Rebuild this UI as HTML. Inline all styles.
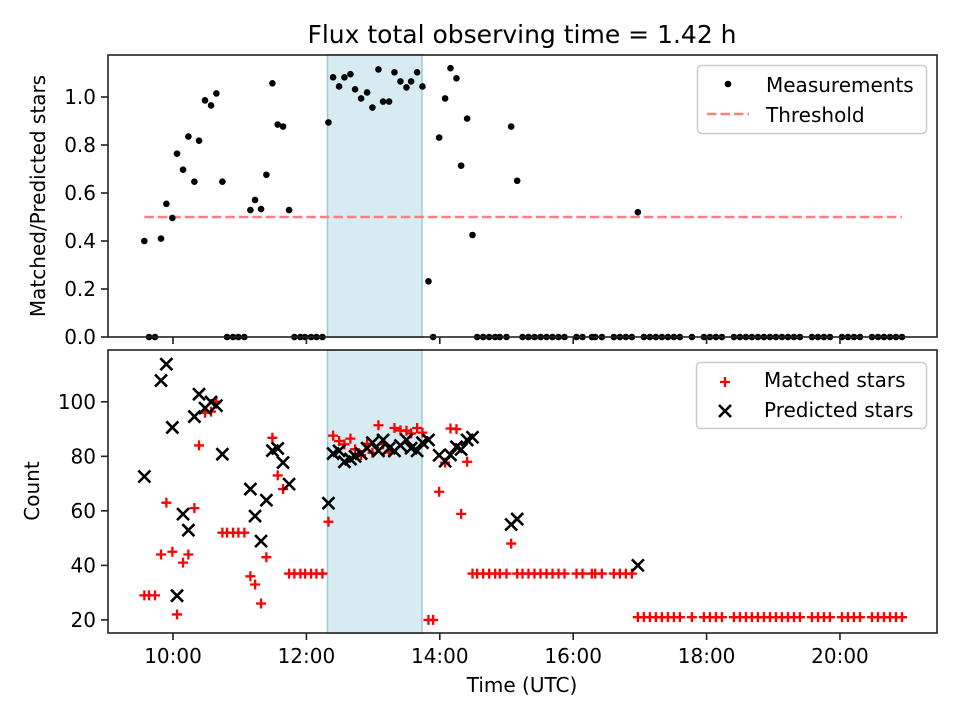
<!DOCTYPE html>
<html><head><meta charset="utf-8"><style>
html,body{margin:0;padding:0;background:#fff;}
svg{display:block;font-family:"DejaVu Sans","Liberation Sans",sans-serif;}
</style></head><body>
<svg id="chart" width="960" height="720" viewBox="0 0 960 720" xmlns="http://www.w3.org/2000/svg"></svg>
<script>
const times = [9.57,9.64,9.73,9.82,9.90,9.99,10.06,10.15,10.23,10.32,10.39,10.48,10.57,10.65,10.74,10.81,10.90,10.98,11.07,
11.16,11.23,11.32,11.40,11.49,11.57,11.65,11.74,11.82,11.91,11.98,12.07,12.15,12.24,12.33,
12.40,12.49,12.57,12.66,12.73,12.82,12.91,12.99,13.08,13.15,13.24,13.32,13.41,13.50,13.57,13.66,13.74,13.83,13.90,
13.99,14.08,14.16,14.25,14.32,14.41,14.49,
14.56,14.65,14.74,14.83,14.90,15.00,15.07,15.16,15.24,15.33,15.42,15.51,15.60,15.69,15.78,15.87,16.05,16.14,16.28,16.33,16.43,16.61,16.70,16.79,16.88,
16.97,17.06,17.15,17.24,17.33,17.42,17.51,17.60,17.78,17.96,18.05,18.14,18.23,18.41,18.50,18.59,18.68,18.77,18.86,18.95,19.04,19.13,19.22,19.31,19.40,19.58,19.67,19.76,19.85,20.03,20.12,20.21,20.30,20.48,20.57,20.66,20.75,20.84,20.93];
const ratio = [0.40,0,0,0.41,0.555,0.496,0.764,0.697,0.835,0.647,0.818,0.986,0.965,1.015,0.647,0,0,0,0,
0.529,0.571,0.533,0.676,1.057,0.885,0.877,0.529,0,0,0,0,0,0,0.894,
1.082,1.044,1.082,1.095,1.032,0.994,1.019,0.956,1.115,0.981,0.981,1.103,1.065,1.040,1.065,1.103,1.044,0.232,0,
0.831,0.994,1.12,1.078,0.714,0.91,0.425,
0,0,0,0,0,0,0.877,0.651,0,0,0,0,0,0,0,0,0,0,0,0,0,0,0,0,0,
0.52,0,0,0,0,0,0,0,0,0,0,0,0,0,0,0,0,0,0,0,0,0,0,0,0,0,0,0,0,0,0,0,0,0,0,0,0,0,0];
const matched = [29,29,29,44,63,45,22,41,44,61,84,96,96.4,100,52,52,52,52,52,
36,33,26,43,86.8,73,68,37,37,37,37,37,37,37,56,
87.6,85.6,84.4,86.5,82.6,80.5,84.6,81.3,91.4,84.4,81.4,90.4,89.5,89.4,88.4,90.4,88.7,20,20,
67,77.7,90.2,90,58.9,78,37,
37,37,37,37,37,37,48,37,37,37,37,37,37,37,37,37,37,37,37,37,37,37,37,37,37,
21,21,21,21,21,21,21,21,21,21,21,21,21,21,21,21,21,21,21,21,21,21,21,21,21,21,21,21,21,21,21,21,21,21,21,21,21,21,21];
const predicted = [72.6,null,null,107.8,113.8,90.6,28.9,58.8,52.9,94.6,102.8,97.7,99.9,98.6,80.8,null,null,null,null,
68,58.1,48.9,63.9,82.1,82.9,77.7,69.8,null,null,null,null,null,null,62.8,
81,82,78,79,80,81,83,85,82,86,83,82,84,86,83,82,85,86,null,
80.4,78.2,80.5,83.5,82.5,86,87,
null,null,null,null,null,null,55,57,null,null,null,null,null,null,null,null,null,null,null,null,null,null,null,null,null,
40];
const xTickLabels = ["10:00","12:00","14:00","16:00","18:00","20:00"];
const xTickHours = [10,12,14,16,18,20];
const topTicks = [0.0,0.2,0.4,0.6,0.8,1.0];
const botTicks = [20,40,60,80,100];
const threshold = 0.5;
const bandStart = 12.316, bandEnd = 13.733;

const svg = document.getElementById('chart');
const NS = 'http://www.w3.org/2000/svg';
function mk(tag, attrs, parent){const e=document.createElementNS(NS,tag);for(const k in attrs)e.setAttribute(k,attrs[k]);(parent||svg).appendChild(e);return e;}
const L=108,R=937,T1=55,B1=337,T2=350,B2=633;
const xMin=9.025,xMax=21.455;
const FS='20';
const x = t => L + (t-xMin)/(xMax-xMin)*(R-L);
const y1 = v => B1 - (v-0)/(1.175-0)*(B1-T1);
const y2 = v => B2 - (v-15.2)/(119-15.2)*(B2-T2);

let t = mk('text',{x:522,y:43,'text-anchor':'middle','font-size':'25',fill:'#000'});


t.textContent='Flux total observing time = 1.42 h';

function axesFrame(T,B,name){
  const g=mk('g',{});
  
  
  const band=mk('rect',{x:x(bandStart),y:T,width:x(bandEnd)-x(bandStart),height:B-T,fill:'#add8e6','fill-opacity':0.5,stroke:'#9ccbd9','stroke-width':1.5},g);
  
  
  return g;
}
function frameBorder(T,B,g){
  const r=mk('rect',{x:L,y:T,width:R-L,height:B-T,fill:'none',stroke:'#222','stroke-width':1.6},g);
  
  
  xTickHours.forEach((h,i)=>{
    const tk=mk('line',{x1:x(h),x2:x(h),y1:B,y2:B+7,stroke:'#222','stroke-width':1.6},g);
    
    
  });
}

const g1=axesFrame(T1,B1,'top-axes');
const th=mk('line',{x1:x(9.57),x2:x(20.93),y1:y1(threshold),y2:y1(threshold),stroke:'#ff7f7f','stroke-width':2.6,'stroke-dasharray':'9.5,4'},g1);


times.forEach((tt,i)=>{
  const c=mk('circle',{cx:x(tt),cy:y1(ratio[i]),r:3.3,fill:'#000'},g1);
  
  
});
frameBorder(T1,B1,g1);
topTicks.forEach(v=>{
  const tk=mk('line',{x1:L-7,x2:L,y1:y1(v),y2:y1(v),stroke:'#222','stroke-width':1.6},g1);
  
  
  const lb=mk('text',{x:L-12,y:y1(v)+7,'text-anchor':'end','font-size':FS,fill:'#000'},g1);
  
  
  lb.textContent=v.toFixed(1);
});
let yl=mk('text',{x:0,y:0,'text-anchor':'middle','font-size':FS,fill:'#000',transform:'translate(45,196) rotate(-90)'});


yl.textContent='Matched/Predicted stars';

const lg1=mk('g',{});


mk('rect',{x:697.5,y:65.5,width:229,height:68,rx:4,fill:'#fff','fill-opacity':0.8,stroke:'#cccccc','stroke-width':1.5},lg1);
mk('circle',{cx:728,cy:84,r:3.3,fill:'#000'},lg1);
mk('line',{x1:707,x2:749,y1:114,y2:114,stroke:'#ff7f7f','stroke-width':2.6,'stroke-dasharray':'9.5,4'},lg1);
let e1=mk('text',{x:766,y:92,'font-size':FS,fill:'#000'},lg1);


e1.textContent='Measurements';
let e2=mk('text',{x:766,y:122,'font-size':FS,fill:'#000'},lg1);


e2.textContent='Threshold';

const g2=axesFrame(T2,B2,'bottom-axes');
function plus(cx,cy,parent){
  return mk('path',{d:`M${cx-5},${cy}H${cx+5}M${cx},${cy-5}V${cy+5}`,stroke:'#ff0000','stroke-width':2.3,fill:'none'},parent);
}
function cross(cx,cy,parent){
  return mk('path',{d:`M${cx-6},${cy-6}L${cx+6},${cy+6}M${cx-6},${cy+6}L${cx+6},${cy-6}`,stroke:'#000','stroke-width':2.6,fill:'none'},parent);
}
times.forEach((tt,i)=>{
  const p=plus(x(tt),y2(matched[i]),g2);
  
  
});
times.forEach((tt,i)=>{
  if(predicted[i]==null) return;
  const c=cross(x(tt),y2(predicted[i]),g2);
  
  
});
frameBorder(T2,B2,g2);
botTicks.forEach(v=>{
  const tk=mk('line',{x1:L-7,x2:L,y1:y2(v),y2:y2(v),stroke:'#222','stroke-width':1.6},g2);
  
  
  const lb=mk('text',{x:L-12,y:y2(v)+7,'text-anchor':'end','font-size':FS,fill:'#000'},g2);
  
  
  lb.textContent=String(v);
});
xTickHours.forEach((h,i)=>{
  const lb=mk('text',{x:x(h),y:663,'text-anchor':'middle','font-size':FS,fill:'#000'},g2);
  
  
  lb.textContent=xTickLabels[i];
});
let yl2=mk('text',{x:0,y:0,'text-anchor':'middle','font-size':FS,fill:'#000',transform:'translate(39,491) rotate(-90)'});


yl2.textContent='Count';
let xl=mk('text',{x:522,y:692,'text-anchor':'middle','font-size':FS,fill:'#000'});


xl.textContent='Time (UTC)';

const lg2=mk('g',{});


mk('rect',{x:696.5,y:362.5,width:230,height:66,rx:4,fill:'#fff','fill-opacity':0.8,stroke:'#cccccc','stroke-width':1.5},lg2);
plus(725,382,lg2);
cross(725,411,lg2);
let e3=mk('text',{x:764,y:387,'font-size':FS,fill:'#000'},lg2);


e3.textContent='Matched stars';
let e4=mk('text',{x:764,y:417,'font-size':FS,fill:'#000'},lg2);


e4.textContent='Predicted stars';
</script>
</body></html>
